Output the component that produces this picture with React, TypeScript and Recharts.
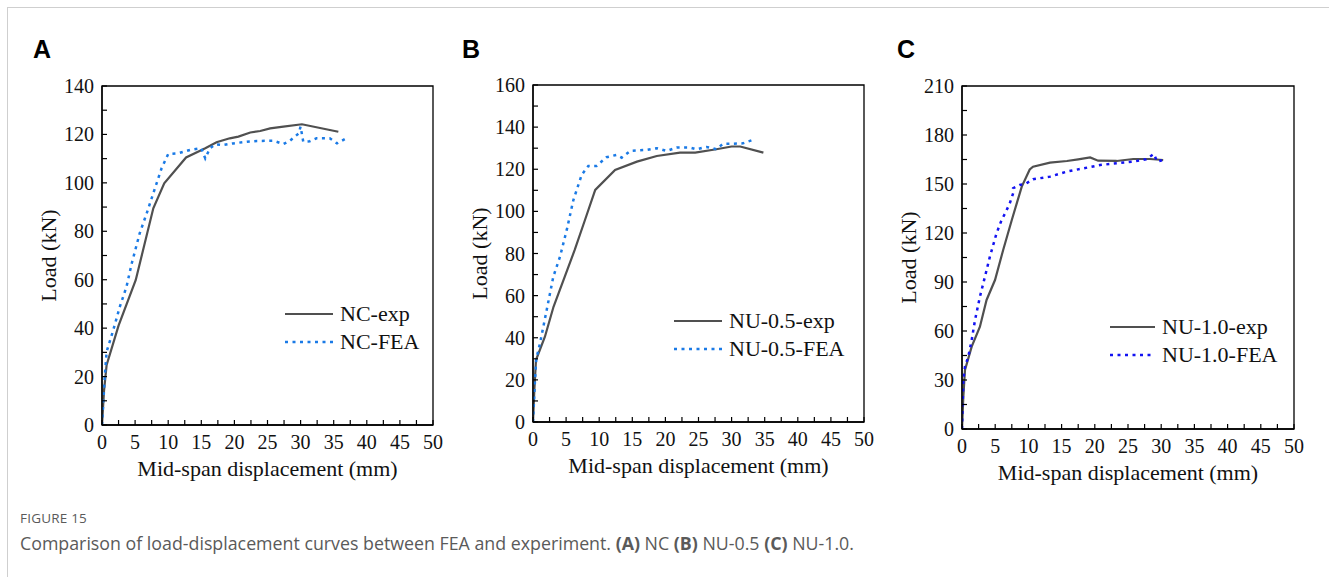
import React from 'react';
import { LineChart, Line, XAxis, YAxis, ReferenceArea, Legend } from 'recharts';

type Pt = [number, number];

// displacement (mm) ticks, labels every 5
const X_TICKS = [0, 2.5, 5, 7.5, 10, 12.5, 15, 17.5, 20, 22.5, 25, 27.5, 30, 32.5, 35, 37.5, 40, 42.5, 45, 47.5, 50];
const X_LABELS = [0, 5, 10, 15, 20, 25, 30, 35, 40, 45, 50];

const Y_TICKS_A = [0, 10, 20, 30, 40, 50, 60, 70, 80, 90, 100, 110, 120, 130, 140];
const Y_LABELS_A = [0, 20, 40, 60, 80, 100, 120, 140];
const Y_TICKS_B = [0, 10, 20, 30, 40, 50, 60, 70, 80, 90, 100, 110, 120, 130, 140, 150, 160];
const Y_LABELS_B = [0, 20, 40, 60, 80, 100, 120, 140, 160];
const Y_TICKS_C = [0, 15, 30, 45, 60, 75, 90, 105, 120, 135, 150, 165, 180, 195, 210];
const Y_LABELS_C = [0, 30, 60, 90, 120, 150, 180, 210];

// [displacement, load]
const NC_EXP: Pt[] = [
  [0, 0], [0.3, 14], [0.7, 24.8], [2.5, 41], [5.1, 59.9], [7.75, 89.5], [9.4, 99.8],
  [12.7, 110.5], [15.6, 114.3], [17.3, 116.8], [19.3, 118.4], [20.6, 119.1],
  [22.4, 120.8], [23.9, 121.4], [25.4, 122.5], [27.4, 123.2], [30.2, 124.2], [35.7, 121.1],
];
const NC_FEA: Pt[] = [
  [0, 0], [0.45, 21.3], [0.7, 30.3], [1.7, 39.2], [2.7, 48.9], [3.7, 57.1], [4.5, 66.8],
  [5.7, 79.2], [6.75, 87.4], [7.75, 95.7], [9.0, 106], [10.0, 111.9], [11.5, 112.2],
  [13.3, 113.6], [15.0, 114.3], [15.6, 110.1], [16.3, 114.3], [17.1, 115.9], [18.3, 115.6],
  [19.8, 116.3], [21.9, 117], [23.4, 117.3], [25.9, 117.4], [27.4, 116], [28.4, 117.4],
  [29.7, 120.4], [30.0, 123.2], [30.4, 117], [31.4, 117.2], [32.4, 118.4], [34.4, 118.4],
  [35.5, 116.3], [36.7, 118.1],
];

const NU05_EXP: Pt[] = [
  [0, 0], [0.2, 15], [0.45, 29.4], [1.8, 40.5], [3.1, 54.7], [4.8, 69], [6.3, 81.7],
  [7.85, 95.9], [9.4, 110.2], [12.4, 119.7], [15.7, 123.6], [18.7, 126.3], [22.2, 127.9],
  [24.5, 127.9], [27.7, 129.5], [30.0, 130.8], [31.3, 130.8], [34.8, 127.9],
];
const NU05_FEA: Pt[] = [
  [0, 0], [0.3, 19.9], [0.5, 30], [1.06, 37.4], [2.07, 53.2], [3.07, 69], [4.08, 78.5],
  [5.1, 91.2], [6.1, 105.4], [7.35, 117.3], [8.36, 121.6], [9.6, 121.6], [11.1, 125.7],
  [12.6, 126.8], [13.4, 125.5], [14.7, 128.7], [17.2, 129.2], [18.7, 130], [20.2, 128.7],
  [21.7, 130.3], [23.7, 130.3], [24.7, 129.5], [26.2, 130.6], [27.7, 129.5], [28.7, 132.1],
  [30.2, 132.1], [31.7, 132.3], [33.0, 133.7],
];

const NU10_EXP: Pt[] = [
  [0, 0], [0.2, 19.8], [0.45, 36.1], [1.46, 50.4], [2.7, 62.6], [3.7, 79], [4.97, 91.2],
  [6.2, 109.6], [7.5, 128], [9.0, 148.4], [10.2, 158.9], [10.7, 160.6], [13.25, 163.1],
  [15.8, 164.1], [17.5, 165.1], [19.3, 166.3], [20.5, 164.3], [23.3, 164.1], [25.8, 165.3],
  [28.3, 165.3], [30.3, 164.7],
];
const NU10_FEA: Pt[] = [
  [0, 0], [0.2, 30], [0.45, 38.2], [0.95, 44.3], [1.46, 54.5], [1.96, 66.7], [2.7, 81],
  [3.46, 93.3], [4.2, 105.5], [5.2, 119.8], [5.97, 128], [6.5, 132.1], [7.2, 138.2],
  [7.7, 144.3], [7.7, 147.4], [8.7, 149.4], [9.7, 150.4], [10.7, 152.9], [13.25, 154.5],
  [15.8, 157.6], [18.3, 159.6], [20.8, 161.6], [23.3, 162.7], [25.8, 163.7], [27.7, 165.1],
  [28.9, 168.4], [29.4, 163.7], [30.3, 164.7],
];

const SERIF = '"Liberation Serif", "Times New Roman", serif';
const SANS = '"Open Sans", "Noto Sans", sans-serif';
const EXP_COLOR = '#505050';
const DASH = '3 4.5';

const toRows = (pts: Pt[]) => pts.map(([x, y]) => ({ x, y }));

type PanelProps = {
  letter: string;
  letterX: number;
  left: number;
  top: number;
  plotW: number;
  plotH: number;
  yMax: number;
  yTicks: number[];
  yLabels: number[];
  exp: Pt[];
  fea: Pt[];
  expName: string;
  feaName: string;
  feaColor: string;
  legendLeft: number;
  legendTop: number;
  legendLine: number;
};

const Y_AXIS_W = 100;
const M_TOP = 10;
const M_RIGHT = 10;
const X_AXIS_H = 60;
const TICK_LEN = 5;

// inward ticks, label only on major values
const XTick = (props: any) => {
  const { x, y, payload } = props;
  const v = payload.value as number;
  return (
    <g>
      <line x1={x} y1={y} x2={x} y2={y - TICK_LEN} stroke="#000" strokeWidth={1.2} />
      {X_LABELS.includes(v) && (
        <text x={x} y={y + 17} textAnchor="middle" dominantBaseline="central" fontFamily={SERIF} fontSize={20} fill="#111">
          {v}
        </text>
      )}
    </g>
  );
};

const makeYTick = (labels: number[]) => (props: any) => {
  const { x, y, payload } = props;
  const v = payload.value as number;
  return (
    <g>
      <line x1={x} y1={y} x2={x + TICK_LEN} y2={y} stroke="#000" strokeWidth={1.2} />
      {labels.includes(v) && (
        <text x={x - 8} y={y} textAnchor="end" dominantBaseline="central" fontFamily={SERIF} fontSize={20} fill="#111">
          {v}
        </text>
      )}
    </g>
  );
};

const Panel: React.FC<PanelProps> = (p) => {
  const width = Y_AXIS_W + p.plotW + M_RIGHT;
  const height = M_TOP + p.plotH + X_AXIS_H;

  const renderLegend = () => {
    const rows = [
      { name: p.expName, color: EXP_COLOR, dash: undefined as string | undefined, w: 2.2 },
      { name: p.feaName, color: p.feaColor, dash: DASH, w: 2.5 },
    ];
    return (
      <div style={{ fontFamily: SERIF, fontSize: 22, color: '#111', lineHeight: '28px' }}>
        {rows.map((r) => (
          <div key={r.name} style={{ display: 'flex', alignItems: 'center', height: 28, whiteSpace: 'nowrap' }}>
            <svg width={p.legendLine} height={8} style={{ marginRight: 7 }}>
              <line x1={0} y1={4} x2={p.legendLine} y2={4} stroke={r.color} strokeWidth={r.w} strokeDasharray={r.dash} />
            </svg>
            <span>{r.name}</span>
          </div>
        ))}
      </div>
    );
  };

  const yTitle = (props: any) => {
    const vb = props.viewBox;
    const cx = vb.x + Y_AXIS_W - 54;
    const cy = vb.y + vb.height / 2;
    return (
      <text x={cx} y={cy} transform={`rotate(-90, ${cx}, ${cy})`} textAnchor="middle" dominantBaseline="central"
        fontFamily={SERIF} fontSize={22} fill="#111">
        Load (kN)
      </text>
    );
  };

  const xTitle = (props: any) => {
    const vb = props.viewBox;
    const cx = vb.x + vb.width / 2;
    const cy = vb.y + 43;
    return (
      <text x={cx} y={cy} textAnchor="middle" dominantBaseline="central" fontFamily={SERIF} fontSize={22} fill="#111">
        Mid-span displacement (mm)
      </text>
    );
  };

  return (
    <>
      <div style={{ position: 'absolute', left: p.letterX, top: 35, fontFamily: '"Liberation Sans", Arial, sans-serif', fontWeight: 700, fontSize: 25, color: '#000' }}>
        {p.letter}
      </div>
      <div style={{ position: 'absolute', left: p.left, top: p.top }}>
        <LineChart width={width} height={height} margin={{ top: M_TOP, right: M_RIGHT, left: 0, bottom: 0 }}>
          <XAxis
            type="number"
            dataKey="x"
            domain={[0, 50]}
            ticks={X_TICKS}
            interval={0}
            allowDataOverflow
            height={X_AXIS_H}
            tickSize={0}
            tickMargin={0}
            tickLine={false}
            tick={<XTick />}
            axisLine={{ stroke: '#000', strokeWidth: 1.3 }}
            label={{ content: xTitle }}
          />
          <YAxis
            type="number"
            dataKey="y"
            domain={[0, p.yMax]}
            ticks={p.yTicks}
            interval={0}
            allowDataOverflow
            width={Y_AXIS_W}
            tickSize={0}
            tickMargin={0}
            tickLine={false}
            tick={makeYTick(p.yLabels)}
            axisLine={{ stroke: '#000', strokeWidth: 1.3 }}
            label={{ content: yTitle }}
          />
          <ReferenceArea x1={0} x2={50} y1={0} y2={p.yMax} fill="none" stroke="#000" strokeWidth={1.3} ifOverflow="visible" />
          <Line
            data={toRows(p.exp)}
            dataKey="y"
            name={p.expName}
            type="linear"
            stroke={EXP_COLOR}
            strokeWidth={2.2}
            dot={false}
            isAnimationActive={false}
          />
          <Line
            data={toRows(p.fea)}
            dataKey="y"
            name={p.feaName}
            type="linear"
            stroke={p.feaColor}
            strokeWidth={2.5}
            strokeDasharray={DASH}
            dot={false}
            isAnimationActive={false}
          />
          <Legend
            layout="vertical"
            align="center"
            verticalAlign="middle"
            content={renderLegend}
            wrapperStyle={{ left: p.legendLeft, top: p.legendTop, width: 'auto', height: 'auto' }}
          />
        </LineChart>
      </div>
    </>
  );
};

const App: React.FC = () => {
  return (
    <div style={{ position: 'absolute', left: 0, top: 0, width: 1329, height: 577, background: '#fff', overflow: 'hidden' }}>
      <div style={{ position: 'absolute', left: 7, top: 7, width: 1340, height: 600, borderTop: '1px solid #cfcfcf', borderLeft: '1px solid #cfcfcf' }} />
      <Panel
        letter="A" letterX={33}
        left={2} top={76} plotW={331} plotH={339}
        yMax={140} yTicks={Y_TICKS_A} yLabels={Y_LABELS_A}
        exp={NC_EXP} fea={NC_FEA} expName="NC-exp" feaName="NC-FEA" feaColor="#1a7ae6"
        legendLeft={283} legendTop={224} legendLine={48}
      />
      <Panel
        letter="B" letterX={462}
        left={433} top={75} plotW={331} plotH={337}
        yMax={160} yTicks={Y_TICKS_B} yLabels={Y_LABELS_B}
        exp={NU05_EXP} fea={NU05_FEA} expName="NU-0.5-exp" feaName="NU-0.5-FEA" feaColor="#1a7ae6"
        legendLeft={241} legendTop={232} legendLine={48}
      />
      <Panel
        letter="C" letterX={897}
        left={862} top={76} plotW={332} plotH={343}
        yMax={210} yTicks={Y_TICKS_C} yLabels={Y_LABELS_C}
        exp={NU10_EXP} fea={NU10_FEA} expName="NU-1.0-exp" feaName="NU-1.0-FEA" feaColor="#1212f2"
        legendLeft={248} legendTop={237} legendLine={45}
      />
      <div style={{ position: 'absolute', left: 20, top: 509, fontFamily: SANS, fontSize: 13.5, color: '#5a5a5a', letterSpacing: 0.2 }}>
        FIGURE 15
      </div>
      <div style={{ position: 'absolute', left: 20, top: 531, fontFamily: SANS, fontSize: 17.8, color: '#5a5a5a', whiteSpace: 'nowrap' }}>
        Comparison of load-displacement curves between FEA and experiment. <b>(A)</b> NC <b>(B)</b> NU-0.5 <b>(C)</b> NU-1.0.
      </div>
    </div>
  );
};

export default App;
